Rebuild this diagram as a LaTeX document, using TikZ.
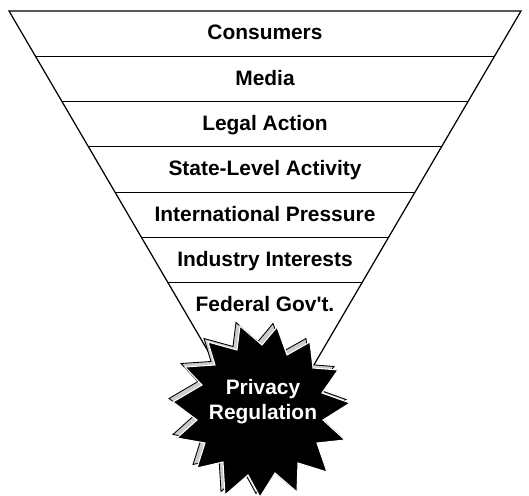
\documentclass[tikz,border=0pt]{standalone}
\usepackage{fontspec}
\setmainfont{Liberation Sans}
\usepackage{tikz}
\usetikzlibrary{positioning}
\usetikzlibrary{calc}

% outline of the burst at the bottom of the funnel
\newcommand{\burst}{(4.80,3.40) -- (5.24,3.02) -- (5.54,3.38) -- (5.74,2.82) -- (6.20,3.08)
    -- (6.26,2.56) -- (6.76,2.52) -- (6.44,2.06) -- (7.00,1.86) -- (6.46,1.52) -- (6.90,1.12)
    -- (6.34,1.06) -- (6.54,0.48) -- (5.96,0.66) -- (5.94,0.08) -- (5.50,0.46) -- (5.20,-0.02)
    -- (4.96,0.42) -- (4.50,0.02) -- (4.46,0.68) -- (3.94,0.56) -- (4.10,1.06) -- (3.54,1.16)
    -- (3.94,1.52) -- (3.46,1.88) -- (4.04,2.22) -- (3.70,2.58) -- (4.30,2.62) -- (4.16,3.08)
    -- (4.74,2.92) -- cycle}

\begin{document}
\begin{tikzpicture}[line width=0.7pt,
    rowlabel/.style={font=\fontsize{11.9}{14.3}\selectfont\bfseries, text height=0.72em, text depth=0pt, inner sep=0pt},
    burstlabel/.style={font=\fontsize{11.9}{14.2}\selectfont\bfseries, text=white, align=center, inner sep=0pt}]
    \useasboundingbox (0,0) rectangle (10.58,9.92);
    \coordinate (tl) at (0.18,9.70);
    \coordinate (tr) at (10.42,9.70);
    \coordinate (apex) at (5.30,0.95);

    \draw (apex) -- (tl) -- (tr) -- cycle;
    \foreach \k in {1,...,6}
        \draw ($(tl)!\k*0.1035!(apex)$) -- ($(tr)!\k*0.1035!(apex)$);

    \foreach \nm/\txt [count=\k] in {consumers/Consumers, media/Media, legal/Legal Action,
        state/State-Level Activity, intl/International Pressure, industry/Industry Interests,
        federal/Federal Gov\textquotesingle t.}
        \node[rowlabel] (\nm) at (5.30,{9.70-(\k-0.5)*0.906}) {\txt};

    % burst with its shadow
    \draw[fill=gray!40, line width=0.5pt, xshift=-0.08cm, yshift=0.07cm] \burst;
    \draw[fill=black, draw=white, line width=0.6pt] \burst;
    \node[burstlabel] (reg) at (5.26,1.89) {Privacy\\Regulation};
\end{tikzpicture}
\end{document}
